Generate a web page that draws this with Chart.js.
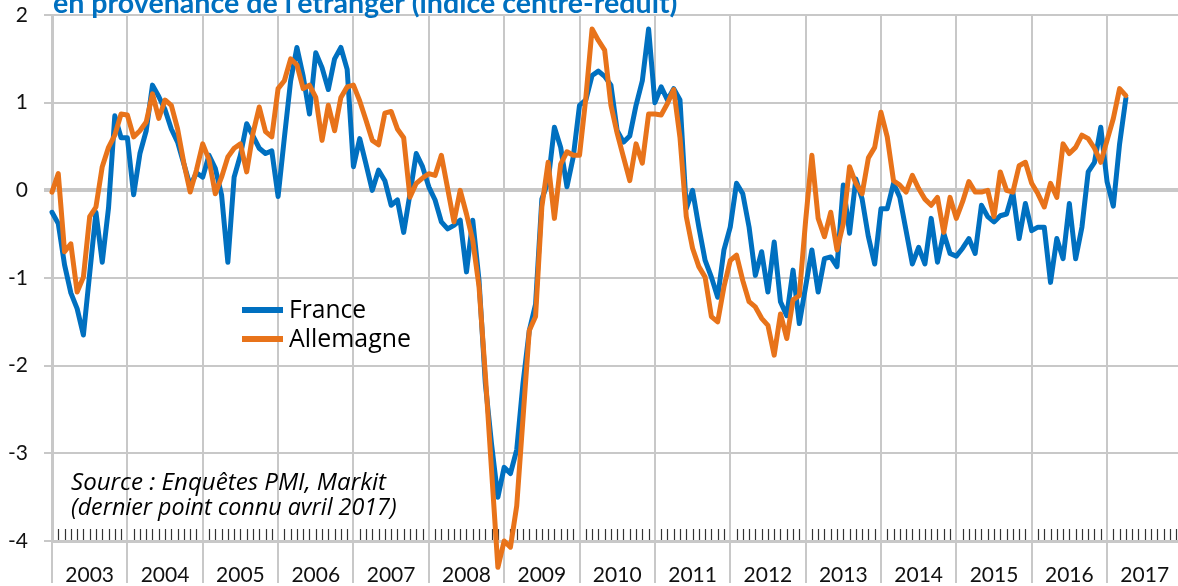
<!DOCTYPE html>
<html lang="fr">
<head>
<meta charset="utf-8">
<title>Demande en provenance de l'étranger</title>
<script src="https://cdn.jsdelivr.net/npm/chart.js@4.4.1/dist/chart.umd.min.js"></script>
<style>
  html, body { margin: 0; padding: 0; background: #fff; }
  #wrap { position: relative; width: 1178px; height: 586px; }
</style>
</head>
<body>
<div id="wrap"><canvas id="chart"></canvas></div>
<script>
const YEARS = ['2003', '2004', '2005', '2006', '2007', '2008', '2009', '2010',
  '2011', '2012', '2013', '2014', '2015', '2016', '2017'];

// monthly values, Jan 2003 -> Apr 2017
const FRANCE = [
  -0.25, -0.38, -0.85, -1.17, -1.35, -1.65, -0.95, -0.25, -0.82, -0.2, 0.85, 0.6,
  0.6, -0.05, 0.42, 0.68, 1.2, 1.07, 0.92, 0.7, 0.55, 0.3, 0.05, 0.2,
  0.15, 0.4, 0.25, -0.05, -0.82, 0.15, 0.4, 0.76, 0.62, 0.48, 0.42, 0.45,
  -0.07, 0.6, 1.25, 1.63, 1.3, 0.87, 1.57, 1.4, 1.15, 1.5, 1.63, 1.38,
  0.27, 0.59, 0.3, 0.0, 0.23, 0.11, -0.17, -0.11, -0.48, -0.04, 0.42, 0.27,
  0.04, -0.11, -0.36, -0.44, -0.4, -0.34, -0.93, -0.34, -1.03, -2.2, -2.9, -3.5,
  -3.16, -3.23, -2.96, -2.2, -1.6, -1.3, -0.1, 0.1, 0.72, 0.49, 0.04, 0.38,
  0.97, 1.03, 1.31, 1.36, 1.3, 1.2, 0.68, 0.55, 0.62, 0.97, 1.25, 1.84,
  1.0, 1.18, 1.03, 1.16, 1.03, -0.21, 0.0, -0.42, -0.8, -0.99, -1.22, -0.68,
  -0.42, 0.08, -0.04, -0.42, -0.97, -0.7, -1.16, -0.59, -1.27, -1.43, -0.91, -1.52,
  -1.1, -0.68, -1.16, -0.78, -0.76, -0.87, 0.06, -0.49, 0.13, -0.1, -0.53, -0.84,
  -0.21, -0.21, 0.08, -0.08, -0.46, -0.84, -0.65, -0.84, -0.32, -0.82, -0.49, -0.72,
  -0.75, -0.66, -0.55, -0.72, -0.17, -0.3, -0.36, -0.29, -0.27, -0.02, -0.55, -0.15,
  -0.46, -0.42, -0.42, -1.05, -0.55, -0.78, -0.15, -0.78, -0.42, 0.21, 0.32, 0.72,
  0.1, -0.18, 0.53, 1.05
];

const ALLEMAGNE = [
  -0.02, 0.19, -0.7, -0.61, -1.16, -0.99, -0.3, -0.19, 0.27, 0.49, 0.63, 0.87,
  0.86, 0.61, 0.68, 0.78, 1.1, 0.82, 1.03, 0.97, 0.7, 0.31, -0.02, 0.23,
  0.53, 0.35, -0.04, 0.15, 0.38, 0.48, 0.53, 0.21, 0.65, 0.95, 0.67, 0.61,
  1.16, 1.25, 1.5, 1.43, 1.16, 1.2, 1.06, 0.57, 0.97, 0.68, 1.06, 1.18,
  1.2, 1.02, 0.8, 0.57, 0.52, 0.88, 0.9, 0.7, 0.6, -0.08, 0.08, 0.14,
  0.19, 0.17, 0.4, 0.02, -0.36, 0.0, -0.27, -0.57, -1.1, -2.1, -3.2, -4.3,
  -4.0, -4.07, -3.6, -2.6, -1.6, -1.44, -0.19, 0.32, -0.32, 0.3, 0.44, 0.4,
  0.4, 1.05, 1.84, 1.71, 1.6, 0.97, 0.65, 0.38, 0.11, 0.53, 0.31, 0.87,
  0.87, 0.86, 0.99, 1.15, 0.6, -0.3, -0.66, -0.87, -0.99, -1.44, -1.5, -1.1,
  -0.8, -0.74, -1.03, -1.27, -1.33, -1.46, -1.54, -1.88, -1.41, -1.69, -1.25, -1.2,
  -0.35, 0.4, -0.32, -0.53, -0.25, -0.68, -0.38, 0.27, 0.08, -0.04, 0.37, 0.49,
  0.89, 0.61, 0.11, 0.06, -0.02, 0.17, 0.02, -0.1, -0.17, -0.08, -0.48, -0.08,
  -0.32, -0.13, 0.1, -0.02, -0.02, 0.0, -0.3, 0.21, 0.0, -0.02, 0.28, 0.32,
  0.08, -0.04, -0.19, 0.08, -0.08, 0.53, 0.42, 0.49, 0.63, 0.59, 0.48, 0.32,
  0.57, 0.82, 1.16, 1.08
];

const Y_MIN = -4;
const Y_MAX = 2;
const X_MAX = 179.3; // months shown, the 2017 column is cut at the right edge

const TITLE = "en provenance de l'étranger (indice centre-réduit)";
const SOURCE_LINES = ['Source : Enquêtes PMI, Markit', '(dernier point connu avril 2017)'];

const BLUE = '#0070C0';
const ORANGE = '#E8731A';
const GRID = '#c8c8c8';
const FONT = 'Lato, "Open Sans", sans-serif';
const NOTE_FONT = '"Open Sans", Lato, sans-serif';

const toPoints = (values) => values.map((y, x) => ({ x, y }));

// pick a font size so that text spans the wanted width
function fitFont(ctx, text, style, family, width) {
  ctx.font = `${style} 20px ${family}`;
  const size = 20 * width / ctx.measureText(text).width;
  return `${style} ${size.toFixed(1)}px ${family}`;
}

// keep the plot box where the original has it, labels may overflow
function noScalePadding(scale) {
  scale.paddingTop = 0;
  scale.paddingBottom = 0;
  scale.paddingLeft = 0;
  scale.paddingRight = 0;
}

const decorPlugin = {
  id: 'decor',
  beforeDatasetsDraw(chart) {
    // small monthly ticks standing on the x axis
    const { ctx, chartArea, scales } = chart;
    ctx.save();
    ctx.strokeStyle = '#333';
    ctx.lineWidth = 1.2;
    for (let m = 1; m < X_MAX; m++) {
      if (m % 12 === 0) continue;
      const x = Math.round(scales.x.getPixelForValue(m)) + 0.5;
      ctx.beginPath();
      ctx.moveTo(x, chartArea.bottom - 12);
      ctx.lineTo(x, chartArea.bottom - 1);
      ctx.stroke();
    }
    ctx.restore();
  },
  afterDraw(chart) {
    const { ctx } = chart;
    ctx.save();

    // title, cut by the top of the picture
    ctx.font = fitFont(ctx, TITLE, 'bold', FONT, 624);
    ctx.fillStyle = BLUE;
    ctx.textBaseline = 'alphabetic';
    ctx.fillText(TITLE, 53, 13);

    // legend inside the plot
    const legendWidths = [77, 122];
    chart.data.datasets.forEach((ds, i) => {
      const y = 310 + i * 29;
      ctx.strokeStyle = ds.borderColor;
      ctx.lineWidth = 6;
      ctx.beginPath();
      ctx.moveTo(242, y);
      ctx.lineTo(283, y);
      ctx.stroke();
      ctx.fillStyle = '#000';
      ctx.font = fitFont(ctx, ds.label, '500', NOTE_FONT, legendWidths[i]);
      ctx.textBaseline = 'middle';
      ctx.fillText(ds.label, 289, y + 1);
    });

    // source note
    const noteWidths = [315, 326];
    ctx.fillStyle = '#000';
    ctx.textBaseline = 'alphabetic';
    SOURCE_LINES.forEach((line, i) => {
      ctx.font = fitFont(ctx, line, 'italic', NOTE_FONT, noteWidths[i]);
      ctx.fillText(line, 71, 490 + i * 25);
    });

    ctx.restore();
  }
};

new Chart(document.getElementById('chart'), {
  type: 'line',
  data: {
    datasets: [
      {
        label: 'France',
        data: toPoints(FRANCE),
        borderColor: BLUE,
        borderWidth: 5,
        pointRadius: 0,
        borderJoinStyle: 'round',
        borderCapStyle: 'round',
        clip: false,
        order: 1
      },
      {
        label: 'Allemagne',
        data: toPoints(ALLEMAGNE),
        borderColor: ORANGE,
        borderWidth: 5,
        pointRadius: 0,
        borderJoinStyle: 'round',
        borderCapStyle: 'round',
        clip: false,
        order: 0
      }
    ]
  },
  options: {
    responsive: true,
    maintainAspectRatio: false,
    animation: false,
    layout: { padding: { top: 15, right: 0, bottom: 0, left: 0 } },
    plugins: {
      legend: { display: false },
      tooltip: { enabled: false }
    },
    scales: {
      x: {
        type: 'linear',
        min: 0,
        max: X_MAX,
        afterFit: (scale) => { scale.height = 45; noScalePadding(scale); },
        grid: {
          color: (ctx) => (ctx.tick && ctx.tick.value % 12 === 0 ? GRID : 'rgba(0,0,0,0)'),
          lineWidth: 2,
          tickLength: 42
        },
        border: { display: true, color: GRID, width: 3 },
        ticks: {
          stepSize: 6,
          autoSkip: false,
          includeBounds: false,
          maxRotation: 0,
          padding: -20,
          color: '#111',
          font: { family: FONT, size: 21 },
          callback: (value) => (value % 12 === 6 ? YEARS[(value - 6) / 12] : '')
        }
      },
      y: {
        min: Y_MIN,
        max: Y_MAX,
        afterFit: (scale) => { scale.width = 52; noScalePadding(scale); },
        grid: {
          color: GRID,
          lineWidth: (ctx) => (ctx.tick && ctx.tick.value === 0 ? 4 : 2),
          tickLength: 8
        },
        border: { display: true, color: GRID, width: 3 },
        ticks: {
          stepSize: 1,
          padding: 16,
          color: '#111',
          font: { family: FONT, size: 21 }
        }
      }
    }
  },
  plugins: [decorPlugin]
});
</script>
</body>
</html>
